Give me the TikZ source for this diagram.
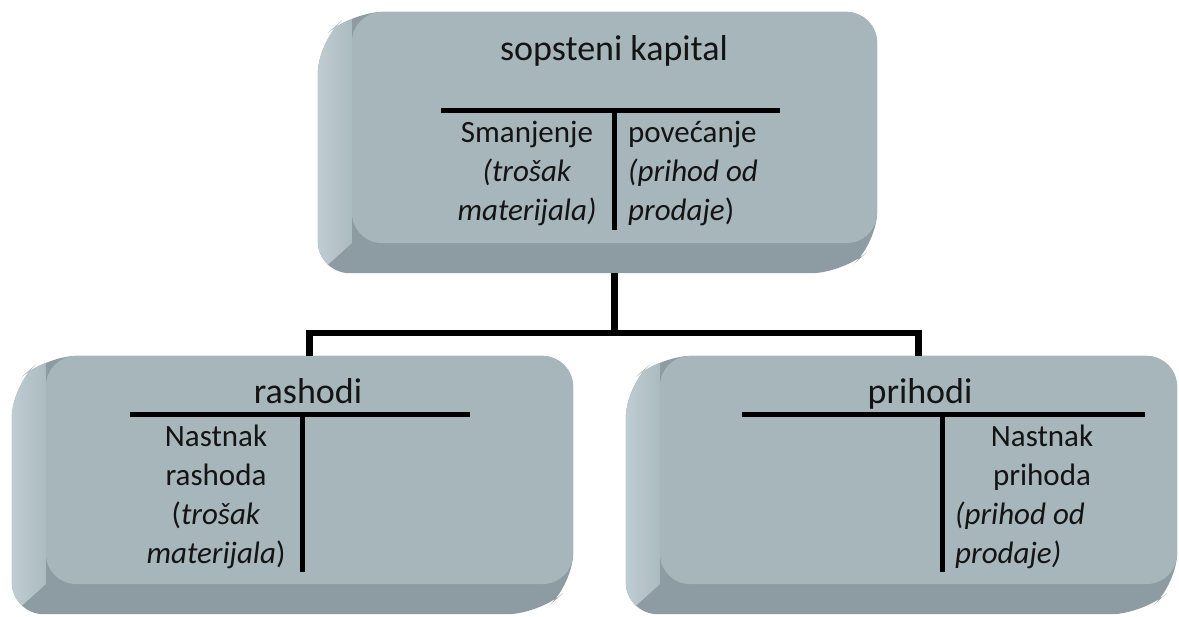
\documentclass[tikz,border=0pt]{standalone}
\usepackage{fontspec}
\setmainfont{Carlito}
\usetikzlibrary{calc,backgrounds}
\definecolor{facecol}{RGB}{167,182,187}
\definecolor{sidelight}{RGB}{194,208,213}
\definecolor{sidemid}{RGB}{172,187,192}
\definecolor{bottomcol}{RGB}{141,156,162}
\definecolor{inkcol}{RGB}{20,20,20}
\tikzset{
  face/.style={rectangle, rounded corners=30bp, fill=facecol, draw=none, inner sep=0pt},
  tline/.style={draw=black, line width=5bp},
  conn/.style={draw=black, line width=6.5bp, line join=miter},
  title/.style={inner sep=0pt, anchor=base, text=inkcol, font=\fontsize{36bp}{43bp}\selectfont},
  body/.style={inner sep=0pt, anchor=base, text=inkcol, font=\fontsize{31bp}{39bp}\selectfont},
  bodyl/.style={body, anchor=base west},
}
\newcommand{\keyboxbg}[1]{%
  \begin{scope}[on background layer]
   \begin{scope}
    \path[clip, rounded corners=32bp] (#1.north west) -- (#1.north east) -- (#1.south east)
      -- ($(#1.south east)+(-34,30)$) -- ($(#1.south west)+(-34,30)$) -- ($(#1.north west)+(-34,30)$) -- cycle;
    \fill[bottomcol] ($(#1.north west)+(-40,-5)$) rectangle ($(#1.south east)+(5,40)$);
    \shade[left color=sidelight, right color=sidemid] ($(#1.north west)+(-40,-5)$) -- ($(#1.north west)+(0,-5)$)
      -- (#1.south west) -- ($(#1.south west)+(-40,36)$) -- cycle;
   \end{scope}
  \end{scope}}
\begin{document}
\begin{tikzpicture}[x=1bp, y=-1bp]
  \begin{scope}[on background layer]
    \fill[white] (0,0) rectangle (1179,617);
  \end{scope}
  \useasboundingbox (0,0) rectangle (1179,617);

  % front faces
  \node[face, minimum width=525bp, minimum height=231bp] (top) at (614.5,127.5) {};
  \node[face, minimum width=527bp, minimum height=228bp] (lb) at (309.5,470) {};
  \node[face, minimum width=517bp, minimum height=228bp] (rb) at (918.5,470) {};
  \keyboxbg{top}
  \keyboxbg{lb}
  \keyboxbg{rb}

  % connectors
  \coordinate (topb) at ($(top.south)+(0,30)$);
  \coordinate (bus) at (614.5,333);
  \draw[conn] (topb) -- (bus);
  \draw[conn] (lb.north) |- (bus) -| (rb.north);

  % top box: sopsteni kapital
  \node[title] (t0) at (614,61) {sopsteni kapital};
  \draw[tline] (441,111) -- (780,111);
  \draw[tline] (614,111) -- (614,230);
  \node[body] (t1) at (527,143) {Smanjenje};
  \node[body] (t2) at (527,182) {\textit{(trošak}};
  \node[body] (t3) at (527,221) {\textit{materijala)}};
  \node[bodyl] (t4) at (628,143) {povećanje};
  \node[bodyl] (t5) at (628,182) {\textit{(prihod od}};
  \node[bodyl] (t6) at (628,221) {\textit{prodaje})};

  % bottom left: rashodi
  \node[title] (l0) at (308,403) {rashodi};
  \draw[tline] (130,414) -- (470,414);
  \draw[tline] (302,414) -- (302,572);
  \node[body] (l1) at (216,446) {Nastnak};
  \node[body] (l2) at (216,485) {rashoda};
  \node[body] (l3) at (216,524) {(\textit{trošak}};
  \node[body] (l4) at (216,563) {\textit{materijala})};

  % bottom right: prihodi
  \node[title] (r0) at (920,403) {prihodi};
  \draw[tline] (742,414) -- (1145,414);
  \draw[tline] (942,414) -- (942,572);
  \node[body] (r1) at (1042,446) {Nastnak};
  \node[body] (r2) at (1042,485) {prihoda};
  \node[bodyl] (r3) at (955,524) {\textit{(prihod od}};
  \node[bodyl] (r4) at (955,563) {\textit{prodaje)}};
\end{tikzpicture}
\end{document}
